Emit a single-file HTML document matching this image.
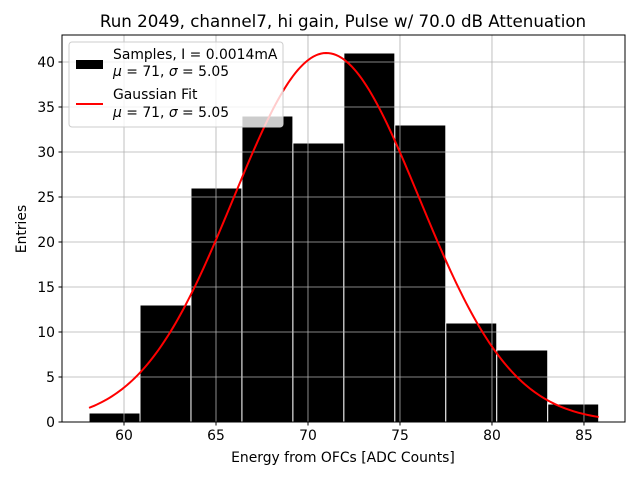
<!DOCTYPE html>
<html><head><meta charset="utf-8"><style>body{margin:0;background:#fff}svg{font-family:"DejaVu Sans","Liberation Sans",sans-serif}</style></head>
<body>
<svg id="c" width="640" height="480" xmlns="http://www.w3.org/2000/svg"></svg>
<script>
const counts=[1,13,26,34,31,41,33,11,8,2];
const binStart=58.1, binWidth=2.77;
const xTicks=[60,65,70,75,80,85];
const yTicks=[0,5,10,15,20,25,30,35,40];
const fitMu=71, fitSigma=5.05, fitAmp=41;
const L=62,R=625,T=35,B=422;
const xmin=56.63,xmax=87.23,ymin=0,ymax=43;
const X=v=>L+(v-xmin)/(xmax-xmin)*(R-L);
const Y=v=>B-(v-ymin)/(ymax-ymin)*(B-T);
const svg=document.getElementById('c');
const NS='http://www.w3.org/2000/svg';
function mk(t,a,p){const e=document.createElementNS(NS,t);for(const k in a)e.setAttribute(k,a[k]);(p||svg).appendChild(e);return e;}
counts.forEach((c,i)=>{const r=mk('rect',{x:X(binStart+i*binWidth),y:Y(c),width:X(binStart+(i+1)*binWidth)-X(binStart+i*binWidth),height:Y(0)-Y(c),fill:'#000',stroke:'#fff','stroke-width':1});

});
let g=mk('g',{});


xTicks.forEach(v=>mk('line',{x1:X(v),x2:X(v),y1:T,y2:B,stroke:'#b0b0b0','stroke-width':0.8},g));
yTicks.forEach(v=>mk('line',{x1:L,x2:R,y1:Y(v),y2:Y(v),stroke:'#b0b0b0','stroke-width':0.8},g));
let d='';const x0=binStart,x1=binStart+counts.length*binWidth;
for(let i=0;i<=200;i++){const v=x0+(x1-x0)*i/200;const y=fitAmp*Math.exp(-((v-fitMu)**2)/(2*fitSigma**2));d+=(i?'L':'M')+X(v).toFixed(2)+' '+Y(y).toFixed(2);}
const p=mk('path',{d:d,fill:'none',stroke:'red','stroke-width':2});


mk('rect',{x:L,y:T,width:R-L,height:B-T,fill:'none',stroke:'#000','stroke-width':1});
xTicks.forEach(v=>{mk('line',{x1:X(v),x2:X(v),y1:B,y2:B+3.5,stroke:'#000'});const t=mk('text',{x:X(v),y:B+18,'font-size':13.9,'text-anchor':'middle'});t.textContent=v;

});
yTicks.forEach(v=>{mk('line',{x1:L-3.5,x2:L,y1:Y(v),y2:Y(v),stroke:'#000'});const t=mk('text',{x:L-7,y:Y(v)+5,'font-size':13.9,'text-anchor':'end'});t.textContent=v;

});
</script>
<svg width="640" height="480" style="position:absolute;left:0;top:0" xmlns="http://www.w3.org/2000/svg">
<text x="343" y="27" font-size="16.7" text-anchor="middle">Run 2049, channel7, hi gain, Pulse w/ 70.0 dB Attenuation</text>
<text x="343" y="462" font-size="13.9" text-anchor="middle">Energy from OFCs [ADC Counts]</text>
<text x="26" y="229" font-size="13.9" text-anchor="middle" transform="rotate(-90 26 229)">Entries</text>
<g>
<rect x="69" y="42" width="214" height="85" rx="3" fill="#fff" fill-opacity="0.8" stroke="#ccc"/>
<rect x="76" y="60" width="27" height="9" fill="#000"/>
<text x="113" y="59" font-size="13.9">Samples, I = 0.0014mA</text>
<text x="113" y="76" font-size="13.9"><tspan font-style="italic">μ</tspan> = 71, <tspan font-style="italic">σ</tspan> = 5.05</text>
<line x1="76" x2="103" y1="104" y2="104" stroke="red" stroke-width="2"/>
<text x="113" y="99" font-size="13.9">Gaussian Fit</text>
<text x="113" y="117" font-size="13.9"><tspan font-style="italic">μ</tspan> = 71, <tspan font-style="italic">σ</tspan> = 5.05</text>
</g>
</svg>
</body></html>
